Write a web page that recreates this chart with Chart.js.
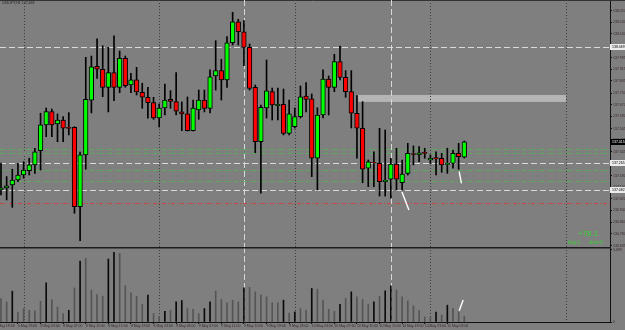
<!DOCTYPE html>
<html>
<head>
<meta charset="utf-8">
<script src="https://cdn.jsdelivr.net/npm/chart.js@4.4.1/dist/chart.umd.min.js"></script>
<style>
  html, body { margin: 0; padding: 0; background: #7f7f7f; }
  #wrap { position: relative; width: 625px; height: 330px; overflow: hidden; }
  #price { position: absolute; left: 0; top: 0; }
  #vol { position: absolute; left: 0; top: 247px; }
</style>
</head>
<body>
<div id="wrap">
  <canvas id="price" width="625" height="247"></canvas>
  <canvas id="vol" width="625" height="83"></canvas>
</div>
<script>
// H1 candles, one per bar index 0..82
var opens = [137.082,137.096,137.116,137.151,137.185,137.215,137.255,137.353,137.531,137.623,
  137.538,137.565,137.510,137.515,136.967,137.324,137.703,137.936,137.915,137.791,
  137.892,137.791,137.991,137.807,137.842,137.757,137.722,137.685,137.579,137.648,
  137.708,137.692,137.621,137.607,137.491,137.634,137.703,137.646,137.869,137.906,
  137.842,138.099,138.244,138.175,138.067,137.791,137.415,137.648,137.761,137.664,
  137.674,137.473,137.519,137.588,137.731,137.712,137.301,137.600,137.848,137.791,
  137.968,137.860,137.761,137.612,137.508,137.232,137.275,137.266,137.139,137.156,
  137.261,137.132,137.197,137.334,137.324,137.342,137.289,137.305,137.301,137.259,
  137.266,137.335,137.308];
var highs = [137.268,137.174,137.225,137.266,137.277,137.301,137.370,137.612,137.648,137.641,
  137.607,137.588,137.616,137.519,137.344,137.998,138.007,138.125,138.078,138.067,
  138.147,138.042,138.007,137.888,137.929,137.819,137.791,137.722,137.676,137.814,
  137.768,137.892,137.690,137.724,137.703,137.772,137.772,137.911,138.113,137.985,
  138.141,138.309,138.261,138.251,138.090,137.807,137.669,137.980,137.786,137.786,
  137.779,137.703,137.648,137.800,137.823,137.745,137.650,137.911,137.869,138.019,
  138.076,137.906,137.906,137.733,137.692,137.289,137.346,137.508,137.496,137.301,
  137.370,137.289,137.404,137.386,137.381,137.370,137.324,137.346,137.335,137.370,
  137.358,137.404,137.420];
var lows = [137.047,137.013,136.962,137.139,137.163,137.185,137.197,137.220,137.450,137.450,
  137.415,137.415,137.462,136.921,136.732,137.225,137.614,137.853,137.726,137.621,
  137.699,137.754,137.791,137.754,137.738,137.646,137.577,137.570,137.517,137.600,
  137.646,137.600,137.491,137.489,137.489,137.570,137.621,137.614,137.772,137.703,
  137.791,138.083,138.083,137.940,137.772,137.339,137.059,137.579,137.565,137.565,
  137.462,137.462,137.510,137.579,137.621,137.174,137.082,137.579,137.600,137.761,
  137.842,137.722,137.510,137.301,137.132,137.105,137.105,137.040,137.040,137.025,
  137.082,137.082,137.185,137.255,137.277,137.301,137.266,137.185,137.204,137.197,
  137.232,137.225,137.303];
var closes = [137.096,137.110,137.151,137.185,137.220,137.255,137.346,137.531,137.623,137.531,
  137.565,137.508,137.507,136.967,137.324,137.708,137.933,137.917,137.791,137.892,
  137.791,137.991,137.802,137.842,137.759,137.722,137.685,137.579,137.648,137.703,
  137.694,137.627,137.607,137.491,137.648,137.703,137.646,137.864,137.906,137.842,
  138.099,138.244,138.175,138.067,137.784,137.415,137.653,137.766,137.669,137.674,
  137.473,137.607,137.588,137.726,137.708,137.301,137.600,137.848,137.791,137.968,
  137.860,137.761,137.612,137.508,137.225,137.277,137.268,137.139,137.151,137.261,
  137.156,137.192,137.335,137.327,137.339,137.335,137.301,137.296,137.255,137.266,
  137.335,137.312,137.415];
var volumes = [1207,1032,1584,516,691,604,568,1068,2012,1156,
  774,433,604,1754,3132,3271,1636,1414,1326,3235,
  3581,3529,1858,1496,1326,913,1378,433,294,552,
  604,1032,1104,691,655,433,691,1032,1584,1156,
  980,1120,1032,1754,1775,1548,1378,1290,980,980,
  1120,464,516,691,604,1723,1687,1120,655,552,
  913,1207,1548,1290,1156,913,1032,1326,1600,1858,
  1636,1290,1084,826,604,258,227,516,361,862,
  707,516,294];
// bars where the volume indicator shows the "up" colour
var volumeUp = [2,8,12,14,19,20,26,29,31,32,36,37,43,50,52,55,60,62,66,68,69,77,79];

var timeTicks = [-1,3,7,11,15,19,23,27,31,35,39,43,47,51,55,59,63,67,71,75,79];
var timeLabels = ['5 May 19:00','5 May 23:00','8 May 03:00','8 May 07:00','8 May 11:00','8 May 15:00',
  '8 May 19:00','8 May 23:00','9 May 03:00','9 May 07:00','9 May 11:00','9 May 15:00','9 May 19:00',
  '9 May 23:00','10 May 03:00','10 May 07:00','10 May 11:00','10 May 15:00','10 May 19:00',
  '10 May 23:00','11 May 03:00'];
var priceTicks = [138.320,138.240,138.160,138.075,137.995,137.915,137.835,137.750,137.670,137.590,
  137.505,137.425,137.345,137.265,137.180,137.100,137.020,136.940,136.860,136.780,136.695];
var volTicks = [0, 3699];

var daySeparators = [4, 28, 52, 76, 100];
var markerBars = [43, 69];
var dashedLevels = [138.069, 137.265, 137.082];
var greenLevels = [137.363, 137.339, 137.220, 137.144];
var redLevels = [136.990];
var zoneBars = [63.2, 100];
var zonePrices = [137.738, 137.690];
var priceMarks = [[70.97, 137.068, 72.2, 136.944], [81.1, 137.208, 81.5, 137.128]];
var volMarks = [[81.1, 580, 81.8, 1130]];
var lastPrice = 137.415;

var xMin = -0.177, xMax = 107.79;
var priceMin = 136.688, priceMax = 138.394;
var volMax = 3853;

var bull = '#00ff00', bear = '#ff0000';
var axisText = '#3a2828';
Chart.defaults.font.family = 'Liberation Sans, Arial, sans-serif';

function vline(ctx, px, top, bottom) {
  ctx.beginPath(); ctx.moveTo(px, top); ctx.lineTo(px, bottom); ctx.stroke();
}
function hline(ctx, py, left, right) {
  ctx.beginPath(); ctx.moveTo(left, py); ctx.lineTo(right, py); ctx.stroke();
}

// vertical period separators and marker lines, shared by both panels
function drawVerticals(chart) {
  var ctx = chart.ctx, a = chart.chartArea, x = chart.scales.x;
  ctx.save();
  ctx.lineWidth = 1;
  ctx.strokeStyle = '#3c3c3c';
  ctx.setLineDash([1, 2]);
  daySeparators.forEach(function(k) {
    vline(ctx, Math.round(x.getPixelForValue(k)) + 0.5, a.top, a.bottom);
  });
  ctx.strokeStyle = '#d8d8d8';
  ctx.setLineDash([6, 3]);
  markerBars.forEach(function(k) {
    vline(ctx, Math.round(x.getPixelForValue(k)) + 0.5, a.top, a.bottom);
  });
  ctx.restore();
}

function drawMarks(chart, marks) {
  var ctx = chart.ctx, x = chart.scales.x, y = chart.scales.y;
  ctx.save();
  ctx.strokeStyle = '#ffffff';
  ctx.lineWidth = 1.4;
  marks.forEach(function(m) {
    ctx.beginPath();
    ctx.moveTo(x.getPixelForValue(m[0]), y.getPixelForValue(m[1]));
    ctx.lineTo(x.getPixelForValue(m[2]), y.getPixelForValue(m[3]));
    ctx.stroke();
  });
  ctx.restore();
}

function axisBox(ctx, py, text, fill, color) {
  ctx.fillStyle = fill;
  ctx.fillRect(610, Math.round(py) - 3, 15, 6);
  ctx.fillStyle = color;
  ctx.font = '3.5px Liberation Sans';
  ctx.textBaseline = 'middle';
  ctx.textAlign = 'left';
  ctx.fillText(text, 612, Math.round(py));
}

var pricePlugin = {
  id: 'priceOverlay',
  beforeDatasetsDraw: function(chart) {
    var ctx = chart.ctx, a = chart.chartArea, x = chart.scales.x, y = chart.scales.y;
    ctx.save();
    // top border
    ctx.strokeStyle = '#333333';
    ctx.lineWidth = 1;
    hline(ctx, 0.5, 0, 625);
    // zone rectangle
    var x0 = x.getPixelForValue(zoneBars[0]), x1 = x.getPixelForValue(zoneBars[1]);
    var y0 = y.getPixelForValue(zonePrices[0]), y1 = y.getPixelForValue(zonePrices[1]);
    ctx.fillStyle = '#b5b5b5';
    ctx.fillRect(x0, y0, x1 - x0, y1 - y0);
    ctx.restore();

    drawVerticals(chart);

    ctx.save();
    ctx.lineWidth = 1;
    ctx.strokeStyle = '#55b055';
    ctx.setLineDash([4, 2, 1, 2]);
    greenLevels.forEach(function(p) { hline(ctx, Math.round(y.getPixelForValue(p)) + 0.5, a.left, a.right); });
    ctx.strokeStyle = '#c84444';
    redLevels.forEach(function(p) { hline(ctx, Math.round(y.getPixelForValue(p)) + 0.5, a.left, a.right); });
    ctx.strokeStyle = '#dadada';
    ctx.setLineDash([6, 3]);
    dashedLevels.forEach(function(p) { hline(ctx, Math.round(y.getPixelForValue(p)) + 0.5, a.left, a.right); });
    ctx.restore();
  },
  afterDraw: function(chart) {
    var ctx = chart.ctx, y = chart.scales.y;
    drawMarks(chart, priceMarks);
    ctx.save();
    dashedLevels.forEach(function(p) { axisBox(ctx, y.getPixelForValue(p), p.toFixed(3), '#ececec', '#000'); });
    axisBox(ctx, y.getPixelForValue(lastPrice), lastPrice.toFixed(3), '#000', '#fff');

    ctx.textAlign = 'left';
    ctx.textBaseline = 'middle';
    ctx.fillStyle = '#222';
    ctx.font = '3.5px Liberation Sans';
    ctx.fillText('USDJPY,H1 137.468', 2, 3);

    ctx.fillStyle = '#33d633';
    ctx.font = '8px Liberation Sans';
    ctx.fillText('+78.1', 578, 234);
    ctx.font = '4.5px Liberation Sans';
    ctx.fillText('long 1', 568, 243);
    ctx.fillText('short 0', 589, 243);
    ctx.restore();
  }
};

var volPlugin = {
  id: 'volOverlay',
  beforeDatasetsDraw: function(chart) {
    drawVerticals(chart);
  },
  afterDraw: function(chart) {
    var ctx = chart.ctx;
    ctx.save();
    ctx.strokeStyle = '#1c1c1c';
    ctx.lineWidth = 1.5;
    hline(ctx, 0.75, 0, 611);
    ctx.restore();
    drawMarks(chart, volMarks);
  }
};

var bodyData = closes.map(function(c, i) { return {x: i, y: [opens[i], c]}; });
var wickData = highs.map(function(h, i) { return {x: i, y: [lows[i], h]}; });
var volData = volumes.map(function(v, i) { return {x: i, y: v}; });

new Chart(document.getElementById('price'), {
  type: 'bar',
  data: {
    datasets: [{
      data: bodyData,
      order: 0,
      grouped: false,
      barThickness: 4.6,
      minBarLength: 1,
      backgroundColor: closes.map(function(c, i) { return c >= opens[i] ? bull : bear; }),
      borderColor: '#000',
      borderWidth: 1,
      borderSkipped: false
    }, {
      data: wickData,
      order: 1,
      grouped: false,
      barThickness: 1,
      backgroundColor: '#000',
      borderWidth: 0
    }]
  },
  options: {
    responsive: false,
    animation: false,
    events: [],
    plugins: { legend: { display: false }, tooltip: { enabled: false } },
    scales: {
      x: { type: 'linear', display: false, min: xMin, max: xMax, offset: false, bounds: 'data' },
      y: {
        type: 'linear', position: 'right', min: priceMin, max: priceMax, bounds: 'data',
        afterBuildTicks: function(s) { s.ticks = priceTicks.map(function(v) { return {value: v}; }); },
        afterFit: function(s) { s.width = 15; s.paddingTop = 0; s.paddingBottom = 0; },
        ticks: {
          autoSkip: false, padding: 1, color: axisText,
          font: { size: 3.5 },
          callback: function(v) { return Number(v).toFixed(3); }
        },
        grid: { drawOnChartArea: false, drawTicks: true, tickLength: 2, color: '#111' },
        border: { display: true, color: '#111', width: 1 }
      }
    }
  },
  plugins: [pricePlugin]
});

new Chart(document.getElementById('vol'), {
  type: 'bar',
  data: {
    datasets: [{
      data: volData,
      grouped: false,
      barThickness: 1,
      backgroundColor: volumes.map(function(v, i) { return volumeUp.indexOf(i) >= 0 ? '#0a0a0a' : '#555555'; }),
      borderWidth: 0
    }]
  },
  options: {
    responsive: false,
    animation: false,
    events: [],
    plugins: { legend: { display: false }, tooltip: { enabled: false } },
    scales: {
      x: {
        type: 'linear', position: 'bottom', min: xMin, max: xMax, offset: false, bounds: 'data',
        afterBuildTicks: function(s) { s.ticks = timeTicks.map(function(v) { return {value: v}; }); },
        afterFit: function(s) { s.height = 8; s.paddingLeft = 0; s.paddingRight = 0; },
        ticks: {
          autoSkip: false, maxRotation: 0, minRotation: 0, align: 'start', padding: 0,
          color: axisText, font: { size: 3.5 },
          callback: function(v, i) { return timeLabels[i]; }
        },
        grid: { drawOnChartArea: false, drawTicks: true, tickLength: 2, color: '#111', offset: false },
        border: { display: true, color: '#111', width: 1 }
      },
      y: {
        type: 'linear', position: 'right', min: 0, max: volMax, bounds: 'data',
        afterBuildTicks: function(s) { s.ticks = volTicks.map(function(v) { return {value: v}; }); },
        afterFit: function(s) { s.width = 15; s.paddingTop = 0; s.paddingBottom = 0; },
        ticks: { autoSkip: false, padding: 1, color: axisText, font: { size: 3.5 } },
        grid: { drawOnChartArea: false, drawTicks: true, tickLength: 2, color: '#111' },
        border: { display: true, color: '#111', width: 1 }
      }
    }
  },
  plugins: [volPlugin]
});
</script>
</body>
</html>
